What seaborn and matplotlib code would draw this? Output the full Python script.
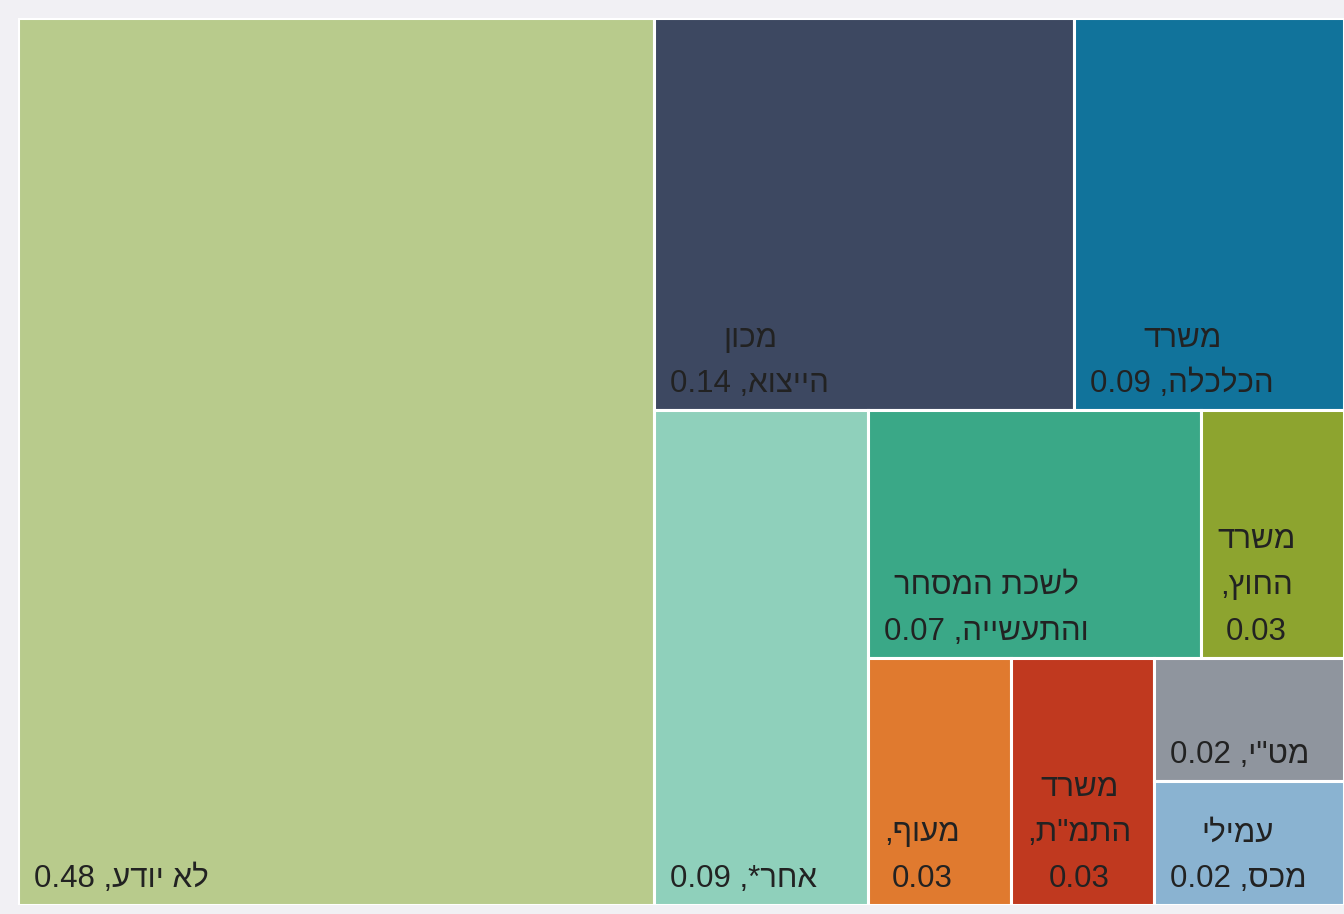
import re
import matplotlib
matplotlib.use('Agg')
import matplotlib.pyplot as plt
import seaborn as sns

sns.set_theme(style='white')
plt.rcParams['font.family'] = ['Liberation Sans', 'DejaVu Sans']

# =============================================
# DATA
# =============================================
labels = ['לא יודע', 'מכון\nהייצוא', 'משרד\nהכלכלה', 'אחר*', 'לשכת המסחר\nוהתעשייה',
          'משרד\nהחוץ', 'מעוף', 'משרד\nהתמ"ת', 'מט"י', 'עמילי\nמכס']
values = [0.48, 0.14, 0.09, 0.09, 0.07, 0.03, 0.03, 0.03, 0.02, 0.02]
# value goes on its own line for the narrow cells
value_newline = [False, False, False, False, False, True, True, True, False, False]
colors = ['#b8cb8c', '#3d4861', '#11739b', '#8fd0bb', '#3aa887',
          '#8da42f', '#e07a2f', '#c0391f', '#8f959e', '#8ab3d1']
# items per strip (as in the Excel treemap)
strip_sizes = [1, 2, 1, 2, 1, 1, 1, 1]


def visual(line):
    # crude bidi: reverse RTL line, keep numbers left-to-right
    rev = line[::-1]
    return re.sub(r'[0-9.]+', lambda m: m.group(0)[::-1], rev)


def treemap(vals, sizes, x, y, w, h):
    rects = []
    i = 0
    for n in sizes:
        group = vals[i:i + n]
        rest = sum(vals[i:])
        s = sum(group)
        if w >= h:
            cw = w * s / rest
            yy = y
            for v in group:
                rh = h * v / s
                rects.append((x, yy, cw, rh))
                yy += rh
            x += cw
            w -= cw
        else:
            rh = h * s / rest
            xx = x
            for v in group:
                cw = w * v / s
                rects.append((xx, y, cw, rh))
                xx += cw
            y += rh
            h -= rh
        i += n
    return rects


# =============================================
# PLOT
# =============================================
W_PX, H_PX = 1344, 914
fig = plt.figure(figsize=(W_PX / 100, H_PX / 100), dpi=100, facecolor='#f1f0f4')
ax_w, ax_h = 1326, 887
ax = fig.add_axes([18 / W_PX, 9 / H_PX, ax_w / W_PX, ax_h / H_PX])
AR = ax_w / ax_h

rects = treemap(values, strip_sizes, 0, 0, AR, 1.0)

ax.bar([r[0] for r in rects], [r[3] for r in rects], width=[r[2] for r in rects],
       bottom=[r[1] for r in rects], align='edge', color=colors,
       edgecolor='white', linewidth=2.2)

px = AR / ax_w
py = 1.0 / ax_h
for (x, y, w, h), lab, v, nl in zip(rects, labels, values, value_newline):
    text = lab + (',\n' if nl else ', ') + f'{v:.2f}'
    text = '\n'.join(visual(l) for l in text.split('\n'))
    ax.text(x + 16 * px, y + h - 11 * py, text, ha='left', va='bottom',
            multialignment='center', fontsize=22.5, linespacing=1.68,
            color='#222222')

ax.set_xlim(0, AR)
ax.set_ylim(1.0, 0)
ax.axis('off')

plt.savefig('out.png', dpi=100, facecolor=fig.get_facecolor())
plt.close()
